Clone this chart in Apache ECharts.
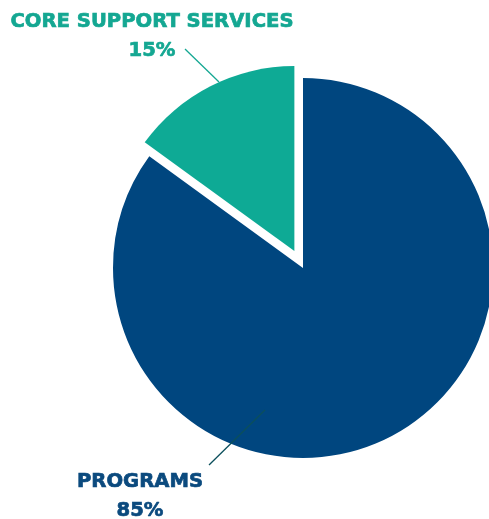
<!DOCTYPE html>
<html>
<head>
<meta charset="utf-8">
<script src="https://cdn.jsdelivr.net/npm/echarts@6/dist/echarts.min.js"></script>
<style>
  html, body { margin: 0; padding: 0; background: #fff; }
  #pieChart { width: 489px; height: 519px; }
</style>
</head>
<body>
<div id="pieChart"></div>
<script>
// 数据
var categories = ['PROGRAMS', 'CORE SUPPORT SERVICES']
var shares = [85, 15]
var colors = ['#00467f', '#0eaa95']
var textColors = ['#0b4a7e', '#14a792']
var lineColors = ['#0b4f5c', '#14a792']

// layout
var center = [303, 268]
var radii = [190, 185]
var pullOut = 19 // 突出的扇区偏移
var labelPos = [
  { x: 140, y: 496, line: [[265, 410], [209, 465]] },
  { x: 152, y: 36, line: [[219, 82], [185, 49]] }
]

// 突出扇区的中心：沿扇区角平分线方向偏移
var total = shares[0] + shares[1]
var midAngle = 2 * Math.PI * (shares[0] + shares[1] / 2) / total // clockwise from top
var pulledCenter = [
  center[0] + pullOut * Math.sin(midAngle),
  center[1] - pullOut * Math.cos(midAngle)
]

// visibleIndex: 画出的扇区；withLabels: 该系列是否显示全部标签（放在上层系列，标签线不被遮挡）
function makeSeries(visibleIndex, c, r, withLabels, z) {
  return {
    type: 'pie',
    z: z,
    center: c,
    radius: r,
    startAngle: 90,
    silent: true,
    emphasis: { disabled: true },
    label: {
      show: withLabels,
      position: 'outside',
      overflow: 'none',
      formatter: '{n|{b}}\n{p|{d}%}',
      rich: {
        n: { fontSize: 19.6, fontWeight: 'bold', lineHeight: 29, fontFamily: 'DejaVu Sans' },
        p: { fontSize: 19.6, fontWeight: 'bold', lineHeight: 29, fontFamily: 'DejaVu Sans' }
      }
    },
    labelLine: { show: withLabels, lineStyle: { width: 1.3 } },
    labelLayout: function (params) {
      var p = labelPos[params.dataIndex]
      return {
        x: p.x,
        y: p.y,
        align: 'center',
        verticalAlign: 'middle',
        labelLinePoints: p.line
      }
    },
    data: categories.map(function (name, i) {
      var on = i === visibleIndex
      return {
        name: name,
        value: shares[i],
        itemStyle: { color: on ? colors[i] : 'rgba(0,0,0,0)' },
        label: {
          show: withLabels,
          color: textColors[i],
          // 加粗一点，接近原图的粗体字
          textBorderColor: textColors[i],
          textBorderWidth: 0.7
        },
        labelLine: { show: withLabels, lineStyle: { color: lineColors[i] } }
      }
    })
  }
}

var chart = echarts.init(document.getElementById('pieChart'))
chart.setOption({
  animation: false,
  series: [
    makeSeries(0, center, radii[0], false, 2),
    makeSeries(1, pulledCenter, radii[1], true, 3)
  ]
})
</script>
</body>
</html>
